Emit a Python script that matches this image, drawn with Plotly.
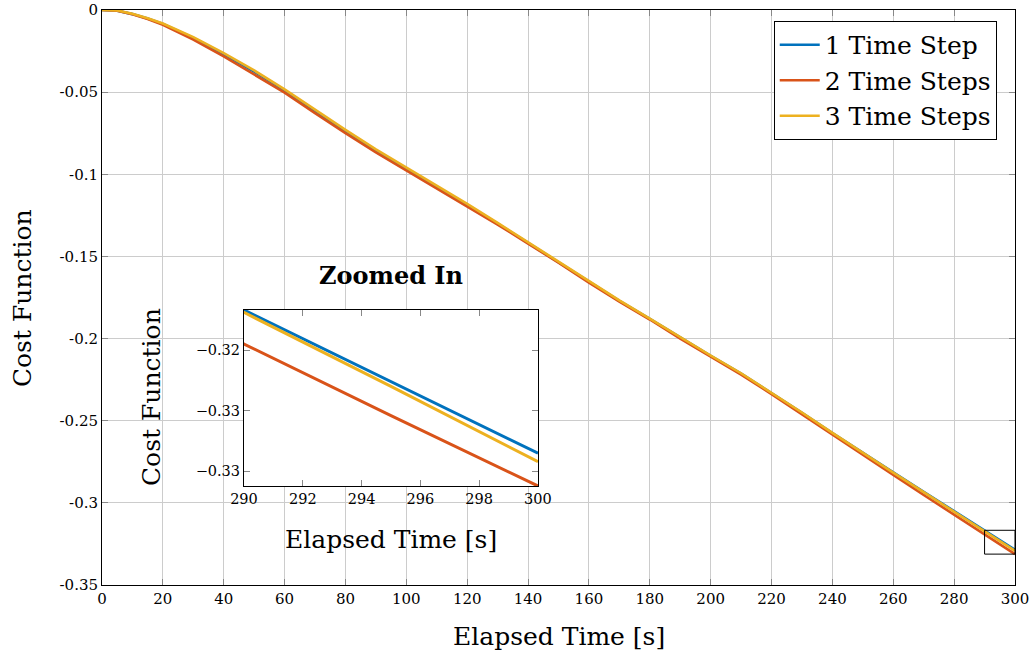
import plotly.graph_objects as go

# ---- data ----
time_s = [0, 5, 10, 15, 20, 30, 40, 50, 60, 70, 80, 90, 100, 110, 120, 130, 140, 150,
          160, 170, 180, 190, 200, 210, 220, 230, 240, 250, 260, 270, 280, 290, 295, 300]

cost_1_step = [0, -0.0004, -0.0025, -0.0052, -0.0085, -0.0170, -0.0268, -0.0375, -0.0490,
               -0.0615, -0.0737, -0.0855, -0.0965, -0.1077, -0.1185, -0.1300, -0.1418,
               -0.1535, -0.1655, -0.1770, -0.1880, -0.1995, -0.2105, -0.2213, -0.2330,
               -0.2452, -0.2575, -0.2697, -0.2815, -0.2933, -0.3050, -0.3167, -0.3226, -0.3285]

cost_2_steps = [0, -0.0004, -0.0026, -0.0055, -0.0090, -0.0180, -0.0282, -0.0390, -0.0503,
                -0.0628, -0.0750, -0.0866, -0.0975, -0.1086, -0.1193, -0.1306, -0.1422,
                -0.1538, -0.1660, -0.1775, -0.1884, -0.2000, -0.2110, -0.2220, -0.2338,
                -0.2462, -0.2585, -0.2710, -0.2830, -0.2952, -0.3072, -0.3195, -0.3254, -0.3312]

cost_3_steps = [0, -0.0003, -0.0023, -0.0050, -0.0082, -0.0165, -0.0262, -0.0368, -0.0483,
                -0.0608, -0.0730, -0.0848, -0.0958, -0.1071, -0.1180, -0.1296, -0.1415,
                -0.1532, -0.1652, -0.1767, -0.1878, -0.1993, -0.2103, -0.2211, -0.2328,
                -0.2450, -0.2574, -0.2697, -0.2816, -0.2935, -0.3053, -0.3169, -0.3230, -0.3292]

series_names = ["1 Time Step", "2 Time Steps", "3 Time Steps"]
series_colors = ["#0072BD", "#D95319", "#EDB120"]

main_x_ticks = list(range(0, 301, 20))
main_y_ticks = [0, -0.05, -0.1, -0.15, -0.2, -0.25, -0.3, -0.35]
main_y_labels = ["0", "-0.05", "-0.1", "-0.15", "-0.2", "-0.25", "-0.3", "-0.35"]

inset_x_ticks = [290, 292, 294, 296, 298, 300]
inset_y_ticks = [-0.32, -0.325, -0.33]
inset_y_labels = ["\u22120.32", "\u22120.33", "\u22120.33"]
inset_x_range = [290, 300]
inset_y_range = [-0.3312, -0.3167]

FONT = "DejaVu Serif"

fig = go.Figure()
all_series = [cost_1_step, cost_2_steps, cost_3_steps]
for name, color, ys in zip(series_names, series_colors, all_series):
    fig.add_trace(go.Scatter(x=time_s, y=ys, mode="lines", name=name,
                             line=dict(color=color, width=2.6), xaxis="x", yaxis="y"))
for name, color, ys in zip(series_names, series_colors, all_series):
    fig.add_trace(go.Scatter(x=time_s, y=ys, mode="lines", name=name, showlegend=False,
                             line=dict(color=color, width=3), xaxis="x2", yaxis="y2"))

axis_common = dict(showline=True, linecolor="black", linewidth=1, mirror="ticks",
                   ticks="inside", tickcolor="#888888", ticklen=6, zeroline=False,
                   automargin=False)

fig.update_layout(
    width=1032, height=655,
    margin=dict(l=102, r=17, t=10, b=70, autoexpand=False),
    paper_bgcolor="white", plot_bgcolor="white",
    font=dict(family=FONT, color="black", size=15),
    xaxis=dict(domain=[0, 1], range=[0, 300], tickvals=main_x_ticks,
               showgrid=True, gridcolor="#cccccc", gridwidth=1,
               tickfont=dict(size=15), **axis_common),
    yaxis=dict(domain=[0, 1], range=[-0.35, 0], tickvals=main_y_ticks, ticktext=main_y_labels,
               showgrid=True, gridcolor="#cccccc", gridwidth=1,
               tickfont=dict(size=15), **axis_common),
    xaxis2=dict(domain=[0.1555, 0.4775], anchor="y2", range=inset_x_range,
                tickvals=inset_x_ticks, showgrid=False, tickfont=dict(size=14.5),
                **axis_common),
    yaxis2=dict(domain=[0.1722, 0.4783], anchor="x2", range=inset_y_range,
                tickvals=inset_y_ticks, ticktext=inset_y_labels, showgrid=False,
                tickfont=dict(size=14.5), **axis_common),
    legend=dict(x=0.980, y=0.981, xanchor="right", yanchor="top",
                bgcolor="white", bordercolor="black", borderwidth=1,
                font=dict(size=25), tracegroupgap=0, itemwidth=40),
    showlegend=True,
)

fig.add_shape(type="rect", xref="x", yref="y", x0=290, x1=300, y0=-0.3312, y1=-0.3167,
              line=dict(color="black", width=1), layer="above")

annots = [
    dict(text="Elapsed Time [s]", x=0.5, y=-0.0904, size=25, angle=0, bold=False),
    dict(text="Cost Function", x=-0.0876, y=0.499, size=25, angle=-90, bold=False),
    dict(text="Elapsed Time [s]", x=0.3165, y=0.0783, size=25, angle=0, bold=False),
    dict(text="Cost Function", x=0.0548, y=0.327, size=25, angle=-90, bold=False),
    dict(text="Zoomed In", x=0.3165, y=0.539, size=24, angle=0, bold=True),
]
for a in annots:
    fig.add_annotation(text=("<b>%s</b>" % a["text"]) if a["bold"] else a["text"],
                       xref="paper", yref="paper", x=a["x"], y=a["y"],
                       xanchor="center", yanchor="middle", showarrow=False,
                       textangle=a["angle"], font=dict(size=a["size"], family=FONT, color="black"))

fig.write_html("out.html")
